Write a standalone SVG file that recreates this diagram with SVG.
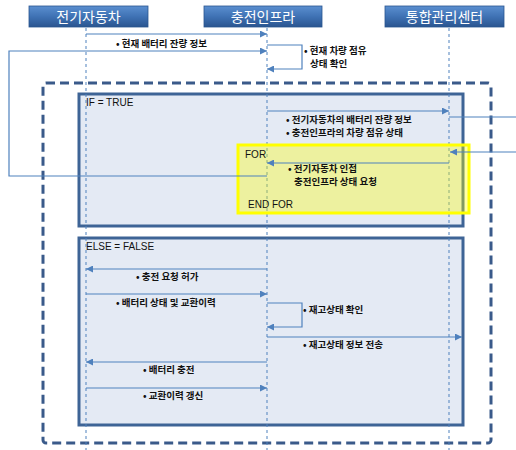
<svg xmlns="http://www.w3.org/2000/svg" width="516" height="450" viewBox="0 0 516 450">
<defs>
<linearGradient id="hdr" x1="0" y1="0" x2="0" y2="1">
<stop offset="0" stop-color="#5B8FD0"/>
<stop offset="0.5" stop-color="#3F72B4"/>
<stop offset="1" stop-color="#2A5590"/>
</linearGradient>
<marker id="ah" viewBox="0 0 10 10" refX="10" refY="5" markerWidth="9" markerHeight="7" markerUnits="userSpaceOnUse" orient="auto">
<path d="M0,0 L10,5 L0,10 Z" fill="#4F81BD"/>
</marker>
<style>
.hdr{fill:url(#hdr);stroke:#2A5590;stroke-width:0.8}
.ht{font-family:"Noto Sans CJK KR","Noto Sans",sans-serif;font-size:14px;fill:#fff;text-anchor:middle}
.life{stroke:#4F81BD;stroke-width:1;stroke-dasharray:3,3;fill:none}
.msg{stroke:#4F81BD;stroke-width:1.2;fill:none}
.arr{marker-end:url(#ah)}
.lbl{font-family:"Noto Sans CJK KR","Noto Sans",sans-serif;font-size:9.5px;font-weight:bold;fill:#111}
.kw{font-family:"Liberation Sans","Noto Sans",sans-serif;font-size:10px;fill:#111}
.frame{fill:#E4EAF4;stroke:#3E6496;stroke-width:3}
</style>
</defs>
<rect width="516" height="450" fill="#fff"/>

<g id="outer-loop">
<rect x="43" y="83" width="448" height="360" rx="3" fill="none" stroke="#3A5A8A" stroke-width="3" stroke-dasharray="9,5"/>
</g>

<g id="if-frame">
<rect class="frame" x="79" y="94" width="384" height="132"/>
<text class="kw" x="86" y="106">IF = TRUE</text>
</g>

<g id="else-frame">
<rect class="frame" x="79" y="238" width="384" height="187"/>
<text class="kw" x="86" y="250">ELSE = FALSE</text>
</g>

<g id="lifelines">
<line class="life" x1="86" y1="28" x2="86" y2="450"/>
<line class="life" x1="267" y1="28" x2="267" y2="450"/>
<line class="life" x1="449" y1="28" x2="449" y2="450"/>
</g>

<g id="for-frame">
<rect x="238" y="145" width="231" height="68" fill="#FFFF00" fill-opacity="0.35" stroke="#FFFF00" stroke-width="3"/>
<text class="kw" x="245" y="158">FOR</text>
<text class="kw" x="248" y="208">END FOR</text>
</g>

<g id="header-ev">
<rect class="hdr" x="29" y="6" width="119" height="21"/>
<text class="ht" x="88.5" y="22">전기자동차</text>
</g>
<g id="header-infra">
<rect class="hdr" x="204" y="6" width="118" height="21"/>
<text class="ht" x="263" y="22">충전인프라</text>
</g>
<g id="header-center">
<rect class="hdr" x="385" y="6" width="119" height="21"/>
<text class="ht" x="444.5" y="22">통합관리센터</text>
</g>

<g id="connectors">
<line class="msg arr" x1="86" y1="34" x2="267" y2="34"/>
<polyline class="msg arr" points="267,176 9,176 9,51 267,51"/>
<polyline class="msg arr" points="267,45 302,45 302,69 267,69"/>
<line class="msg arr" x1="267" y1="111" x2="449" y2="111"/>
<line class="msg" x1="449" y1="117" x2="516" y2="117"/>
<line class="msg arr" x1="516" y1="152" x2="450" y2="152"/>
<line class="msg arr" x1="449" y1="163" x2="267" y2="163"/>
<line class="msg arr" x1="267" y1="269" x2="86" y2="269"/>
<line class="msg arr" x1="86" y1="294" x2="267" y2="294"/>
<polyline class="msg arr" points="267,303 302,303 302,327 267,327"/>
<line class="msg arr" x1="267" y1="337" x2="462" y2="337"/>
<line class="msg arr" x1="267" y1="362" x2="86" y2="362"/>
<line class="msg arr" x1="86" y1="388" x2="267" y2="388"/>
</g>

<g id="labels">
<text class="lbl" x="116" y="47">• 현재 배터리 잔량 정보</text>
<text class="lbl" x="304" y="54">• 현재 차량 점유</text>
<text class="lbl" x="310" y="67">상태 확인</text>
<text class="lbl" x="286" y="123">• 전기자동차의 배터리 잔량 정보</text>
<text class="lbl" x="286" y="136">• 충전인프라의 차량 점유 상태</text>
<text class="lbl" x="288" y="172">• 전기자동차 인접</text>
<text class="lbl" x="294" y="185">충전인프라 상태 요청</text>
<text class="lbl" x="136" y="280">• 충전 요청 허가</text>
<text class="lbl" x="116" y="306">• 배터리 상태 및 교환이력</text>
<text class="lbl" x="303" y="313">• 재고상태 확인</text>
<text class="lbl" x="303" y="348">• 재고상태 정보 전송</text>
<text class="lbl" x="143" y="373">• 배터리 충전</text>
<text class="lbl" x="143" y="399">• 교환이력 갱신</text>
</g>
</svg>
